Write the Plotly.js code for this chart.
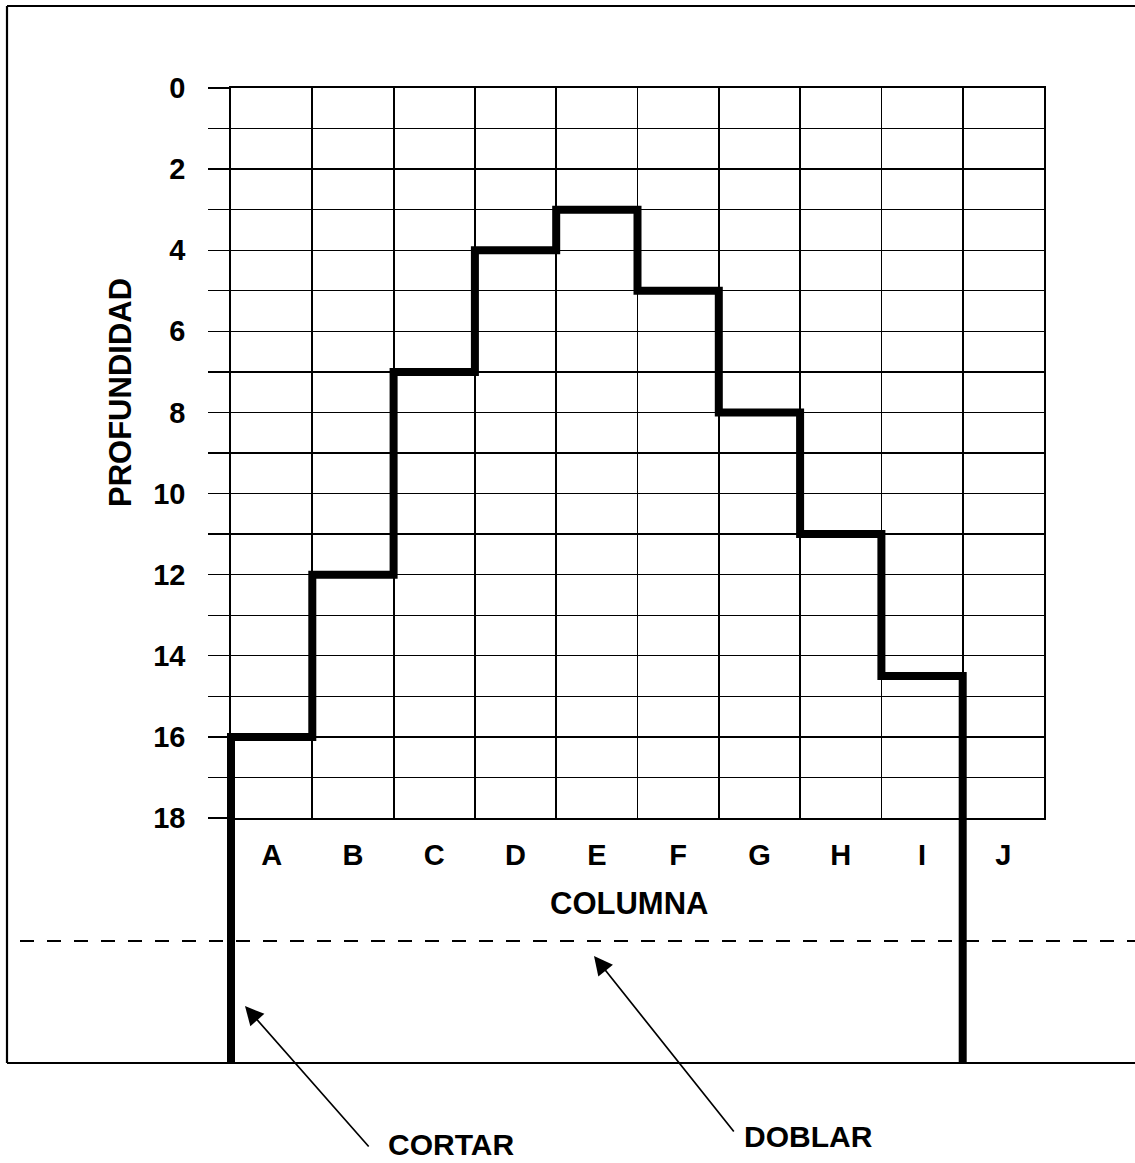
<!DOCTYPE html>
<html>
<head>
<meta charset="utf-8">
<script src="https://cdn.plot.ly/plotly-3.0.1.min.js"></script>
<style>
  html, body { margin: 0; padding: 0; background: #ffffff; }
  #chart { width: 1135px; height: 1163px; }
</style>
</head>
<body>
<div id="chart"></div>
<script>
// ---------------- data ----------------
const columns = ['A', 'B', 'C', 'D', 'E', 'F', 'G', 'H', 'I', 'J'];
// depth of the profile in each column (column J has none)
const depths = [16, 12, 7, 4, 3, 5, 8, 11, 14.5];
// depth axis ticks
const depthTicks = [0, 1, 2, 3, 4, 5, 6, 7, 8, 9, 10, 11, 12, 13, 14, 15, 16, 17, 18];
const depthLabels = ['0', '', '2', '', '4', '', '6', '', '8', '', '10', '', '12', '', '14', '', '16', '', '18'];
// depth (in grid units) where the two cutting lines end, below the grid
const cutEnd = 24.04;
const xTitle = 'COLUMNA';
const yTitle = 'PROFUNDIDAD';
const cutLabel = 'CORTAR';
const foldLabel = 'DOBLAR';

// ---------------- geometry (layout only) ----------------
const W = 1135, H = 1163;
const plot = { left: 231, right: 1044, top: 88, bottom: 818 };
const over = { left: 150, right: 1100, top: 50, bottom: 1100 };
const nCols = columns.length;
const maxDepth = depthTicks[depthTicks.length - 1];
const ux = (plot.right - plot.left) / nCols;
const uy = (plot.bottom - plot.top) / maxDepth;
const px = v => v / W;
const py = v => 1 - v / H;

// ---------------- traces ----------------
const sx = [0], sy = [cutEnd];
depths.forEach((d, i) => { sx.push(i, i + 1); sy.push(d, d); });
sx.push(depths.length); sy.push(cutEnd);

// empty trace so that the grid subplot (x / y) is created
const gridHolder = {
  type: 'scatter', mode: 'lines', x: [null], y: [null],
  xaxis: 'x', yaxis: 'y', hoverinfo: 'skip', showlegend: false
};

const profile = {
  type: 'scatter', mode: 'lines',
  x: sx, y: sy, xaxis: 'x2', yaxis: 'y2',
  line: { color: '#000', width: 8 },
  hoverinfo: 'skip', showlegend: false
};

const FONT = 'Liberation Sans, Arial, Helvetica, sans-serif';
const boundaries = [];
for (let i = 0; i <= nCols; i++) boundaries.push(i);
const centers = columns.map((c, i) => i + 0.5);

const layout = {
  width: W, height: H,
  margin: { l: 0, r: 0, t: 0, b: 0, pad: 0 },
  paper_bgcolor: '#ffffff',
  plot_bgcolor: 'rgba(0,0,0,0)',
  showlegend: false,
  font: { family: FONT, color: '#000', size: 29, weight: 'bold' },
  xaxis: {
    domain: [px(plot.left), px(plot.right)],
    range: [0, nCols], anchor: 'y', fixedrange: true,
    tickmode: 'array', tickvals: centers, ticktext: columns,
    ticks: '', showgrid: false, zeroline: false,
    ticklabelstandoff: 11,
    tickfont: { family: FONT, size: 29, color: '#000', weight: 'bold' },
    showline: true, mirror: true, linecolor: '#000', linewidth: 1.6,
    minor: { tickmode: 'array', tickvals: boundaries, showgrid: true,
             gridcolor: '#000', gridwidth: 1.8, ticks: '' }
  },
  yaxis: {
    domain: [py(plot.bottom), py(plot.top)],
    range: [maxDepth, 0], anchor: 'x', fixedrange: true,
    tickmode: 'array', tickvals: depthTicks, ticktext: depthLabels,
    ticks: 'outside', ticklen: 21, tickwidth: 1.3, tickcolor: '#000',
    ticklabelstandoff: 17,
    tickfont: { family: FONT, size: 29, color: '#000', weight: 'bold' },
    showgrid: true, gridcolor: '#000', gridwidth: 1.3, zeroline: false,
    showline: true, mirror: true, linecolor: '#000', linewidth: 1.8
  },
  xaxis2: {
    domain: [px(over.left), px(over.right)],
    range: [(over.left - plot.left) / ux, (over.right - plot.left) / ux],
    anchor: 'y2', visible: false, fixedrange: true
  },
  yaxis2: {
    domain: [py(over.bottom), py(over.top)],
    range: [(over.bottom - plot.top) / uy, (over.top - plot.top) / uy],
    anchor: 'x2', visible: false, fixedrange: true
  },
  shapes: [
    // outer sheet frame
    { type: 'line', xref: 'paper', yref: 'paper', layer: 'below',
      x0: px(7), x1: 1, y0: py(6), y1: py(6), line: { color: '#000', width: 2.2 } },
    { type: 'line', xref: 'paper', yref: 'paper', layer: 'below',
      x0: px(7), x1: px(7), y0: py(6), y1: py(1063), line: { color: '#000', width: 2.2 } },
    { type: 'line', xref: 'paper', yref: 'paper', layer: 'below',
      x0: px(7), x1: 1, y0: py(1063), y1: py(1063), line: { color: '#000', width: 2.2 } },
    // fold line
    { type: 'line', xref: 'paper', yref: 'paper', layer: 'below',
      x0: px(20), x1: 1, y0: py(941), y1: py(941),
      line: { color: '#000', width: 2, dash: '14px,13px' } }
  ],
  annotations: [
    { text: yTitle, xref: 'paper', yref: 'paper', x: px(121), y: py(393),
      textangle: -90, showarrow: false, xanchor: 'center', yanchor: 'middle',
      font: { family: FONT, size: 31, color: '#000', weight: 'bold' } },
    { text: xTitle, xref: 'paper', yref: 'paper', x: px(629), y: py(903),
      showarrow: false, xanchor: 'center', yanchor: 'middle',
      font: { family: FONT, size: 31, color: '#000', weight: 'bold' } },
    { text: cutLabel, xref: 'paper', yref: 'paper', x: px(451), y: py(1144),
      showarrow: false, xanchor: 'center', yanchor: 'middle',
      font: { family: FONT, size: 30, color: '#000', weight: 'bold' } },
    { text: foldLabel, xref: 'paper', yref: 'paper', x: px(808), y: py(1136),
      showarrow: false, xanchor: 'center', yanchor: 'middle',
      font: { family: FONT, size: 30, color: '#000', weight: 'bold' } },
    { text: '', xref: 'paper', yref: 'paper', x: px(245), y: py(1006),
      ax: 370 - 245, ay: 1148 - 1006, showarrow: true,
      arrowhead: 2, arrowsize: 2.2, arrowwidth: 1.7, arrowcolor: '#000' },
    { text: '', xref: 'paper', yref: 'paper', x: px(594), y: py(956),
      ax: 735 - 594, ay: 1133 - 956, showarrow: true,
      arrowhead: 2, arrowsize: 2.2, arrowwidth: 1.7, arrowcolor: '#000' }
  ]
};

Plotly.newPlot('chart', [gridHolder, profile], layout, { staticPlot: true, displayModeBar: false });
</script>
</body>
</html>
